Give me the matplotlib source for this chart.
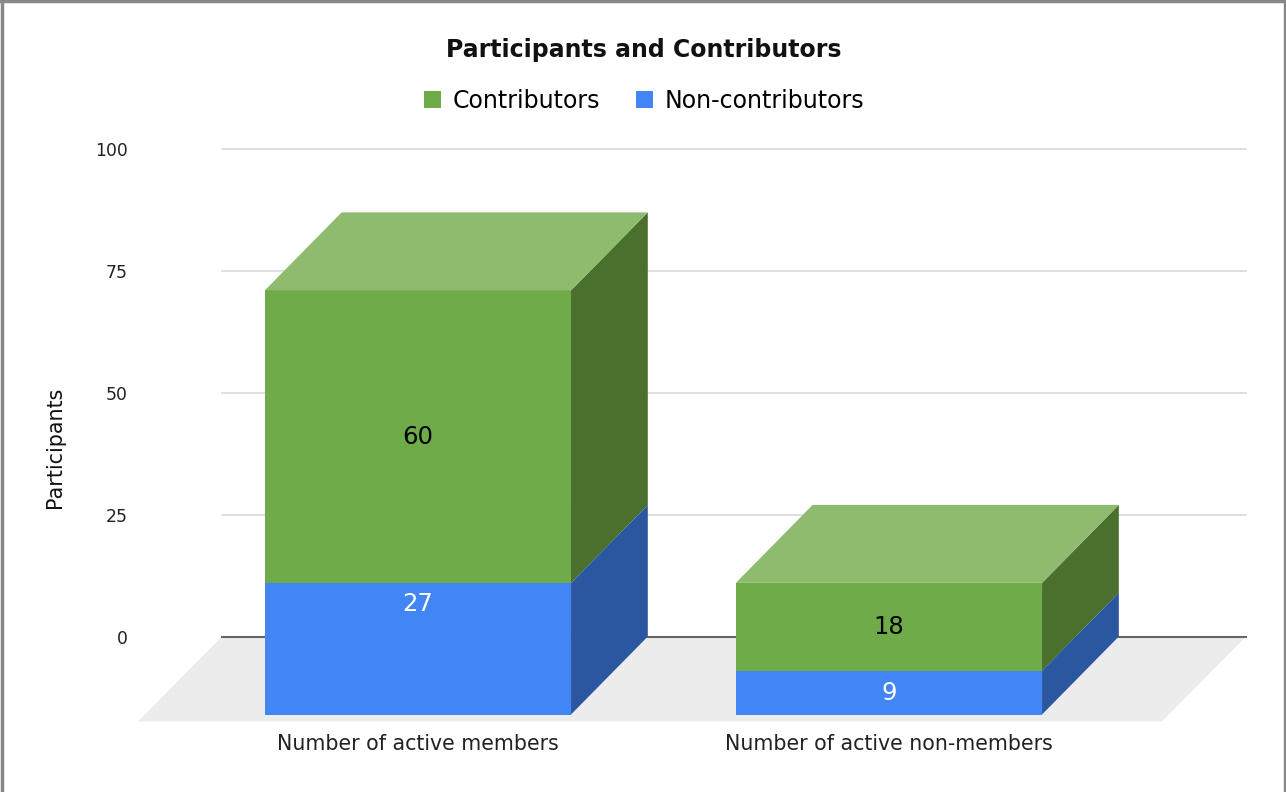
import matplotlib
matplotlib.use('Agg')
import matplotlib.pyplot as plt
from matplotlib.patches import Polygon, Patch
from matplotlib.lines import Line2D

categories = ['Number of active members', 'Number of active non-members']
series_names = ['Non-contributors', 'Contributors']
non_contributors = [27, 9]
contributors = [60, 18]
y_ticks = [0, 25, 50, 75, 100]

# colours: front, top, side for each series
colors = {
    'Non-contributors': ('#4285f4', '#6c9ef6', '#2b56a0'),
    'Contributors': ('#6fab48', '#8fbb6f', '#4a702e'),
}

# 3D look, in data units
DX = 0.163
DY = 16.0
FLOOR_DX = 0.178
FLOOR_DY = 17.4
BAR_W = 0.65

plt.rcParams['font.family'] = ['DejaVu Sans']
fig = plt.figure(figsize=(12.86, 7.92), dpi=100)
W, H = 1286, 792
ax = fig.add_axes([222 / W, 1 - 636.5 / H, 1024 / W, 487.5 / H])
ax.set_xlim(-0.416, 1.758)
ax.set_ylim(0, 100)
for s in ax.spines.values():
    s.set_visible(False)

ax.set_yticks(y_ticks)
ax.set_yticklabels([str(t) for t in y_ticks], fontsize=12.4, color='#222222')
ax.tick_params(axis='y', length=0, pad=68)
for t in y_ticks[1:]:
    ax.axhline(t, color='#d9d9d9', lw=1.2, zorder=0, clip_on=False)
ax.axhline(0, color='#666666', lw=1.5, zorder=1, clip_on=False)

ax.set_xticks(range(len(categories)))
ax.set_xticklabels(categories, fontsize=14.8, color='#222222')
ax.tick_params(axis='x', length=0, pad=70)

xl = ax.get_xlim()
floor = Polygon([(xl[0], 0), (xl[1], 0), (xl[1] - FLOOR_DX, -FLOOR_DY),
                 (xl[0] - FLOOR_DX, -FLOOR_DY)], closed=True,
                facecolor='#ececec', edgecolor='none', zorder=0.5, clip_on=False)
ax.add_patch(floor)

stack = [non_contributors, contributors]
label_colors = ['white', 'black']
bottoms = [0] * len(categories)
z = 2
for name, vals, lc in zip(series_names, stack, label_colors):
    front, top, side = colors[name]
    for i, v in enumerate(vals):
        b = bottoms[i] - DY
        t = b + v
        x0 = i - BAR_W / 2
        x1 = i + BAR_W / 2
        ax.bar(i, v, width=BAR_W, bottom=b, color=front, zorder=z, clip_on=False)
        ax.add_patch(Polygon([(x1, b), (x1 + DX, b + DY), (x1 + DX, t + DY), (x1, t)],
                             closed=True, facecolor=side, edgecolor='none',
                             zorder=z, clip_on=False))
        ax.add_patch(Polygon([(x0, t), (x1, t), (x1 + DX, t + DY), (x0 + DX, t + DY)],
                             closed=True, facecolor=top, edgecolor='none',
                             zorder=z, clip_on=False))
        mid = (b + t) / 2
        if mid < 0 < t:
            # label kept in the part of the bar above the base line
            mid = t / 2 + 1.2
        ax.text(i, mid, str(v), ha='center', va='center', fontsize=17.5,
                color=lc, zorder=10, clip_on=False)
        bottoms[i] += v
    z += 1

fig.text(644 / W, 1 - 50 / H, 'Participants and Contributors', ha='center',
         va='center', fontsize=17, fontweight='bold', color='#111111')
fig.text(55 / W, 1 - 447 / H, 'Participants', rotation=90, ha='center',
         va='center', fontsize=14.9, color='#111111')

handles = [Patch(facecolor=colors[n][0]) for n in ['Contributors', 'Non-contributors']]
fig.legend(handles, ['Contributors', 'Non-contributors'], loc='center',
           bbox_to_anchor=(644 / W, 1 - 101 / H), ncol=2, frameon=False,
           fontsize=17, handlelength=0.72, handleheight=0.72,
           handletextpad=0.5, columnspacing=1.5)

# outer frame
for xs, ys in [([1.5 / W, 1.5 / W], [0, 1]), ([0, 1], [1 - 0.5 / H, 1 - 0.5 / H]),
               ([1 - 1.5 / W, 1 - 1.5 / W], [0, 1])]:
    fig.add_artist(Line2D(xs, ys, color='#888888', lw=2.5))

fig.savefig('out.png', dpi=100)
